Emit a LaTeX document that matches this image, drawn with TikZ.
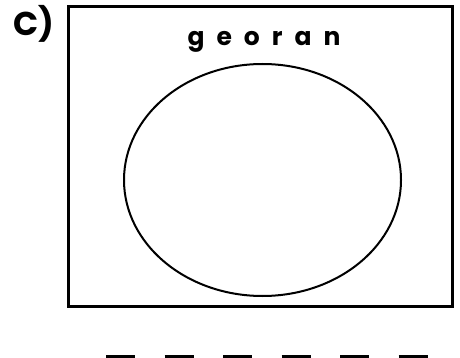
\documentclass[tikz,border=0pt]{standalone}
\usepackage{fontspec}
\setmainfont{Poppins}
\usetikzlibrary{positioning, shapes.geometric}

\begin{document}
\begin{tikzpicture}[
    x=1pt, y=-1pt,
    every node/.style={font=\bfseries},
    frame/.style={draw, line width=3pt, inner sep=0pt},
    setcircle/.style={ellipse, draw, line width=2pt, inner sep=0pt},
    blank/.style={line width=3pt},
    word/.style={font=\fontsize{25}{28}\selectfont\bfseries\addfontfeature{LetterSpace=48}, anchor=base},
    tag/.style={font=\fontsize{33}{36}\selectfont\bfseries, anchor=base west, inner sep=0pt}
]
\useasboundingbox (0,0) rectangle (460,358);

% ============ FRAME ============
\node[frame, minimum width=384pt, minimum height=299pt] (box) at (260,156.5) {};

% Label
\node[tag] (part) at (13,36) {C)};

% Scrambled letters
\node[word] (letters) at (264,46) {georan};

% ============ SET ============
\node[setcircle, minimum width=277pt, minimum height=232pt] (set) at (262.5,180) {};

% ============ ANSWER BLANKS ============
\foreach \i in {0,...,5}
    \draw[blank] ({106+58.5*\i},356) -- ++(29,0);

\end{tikzpicture}
\end{document}
